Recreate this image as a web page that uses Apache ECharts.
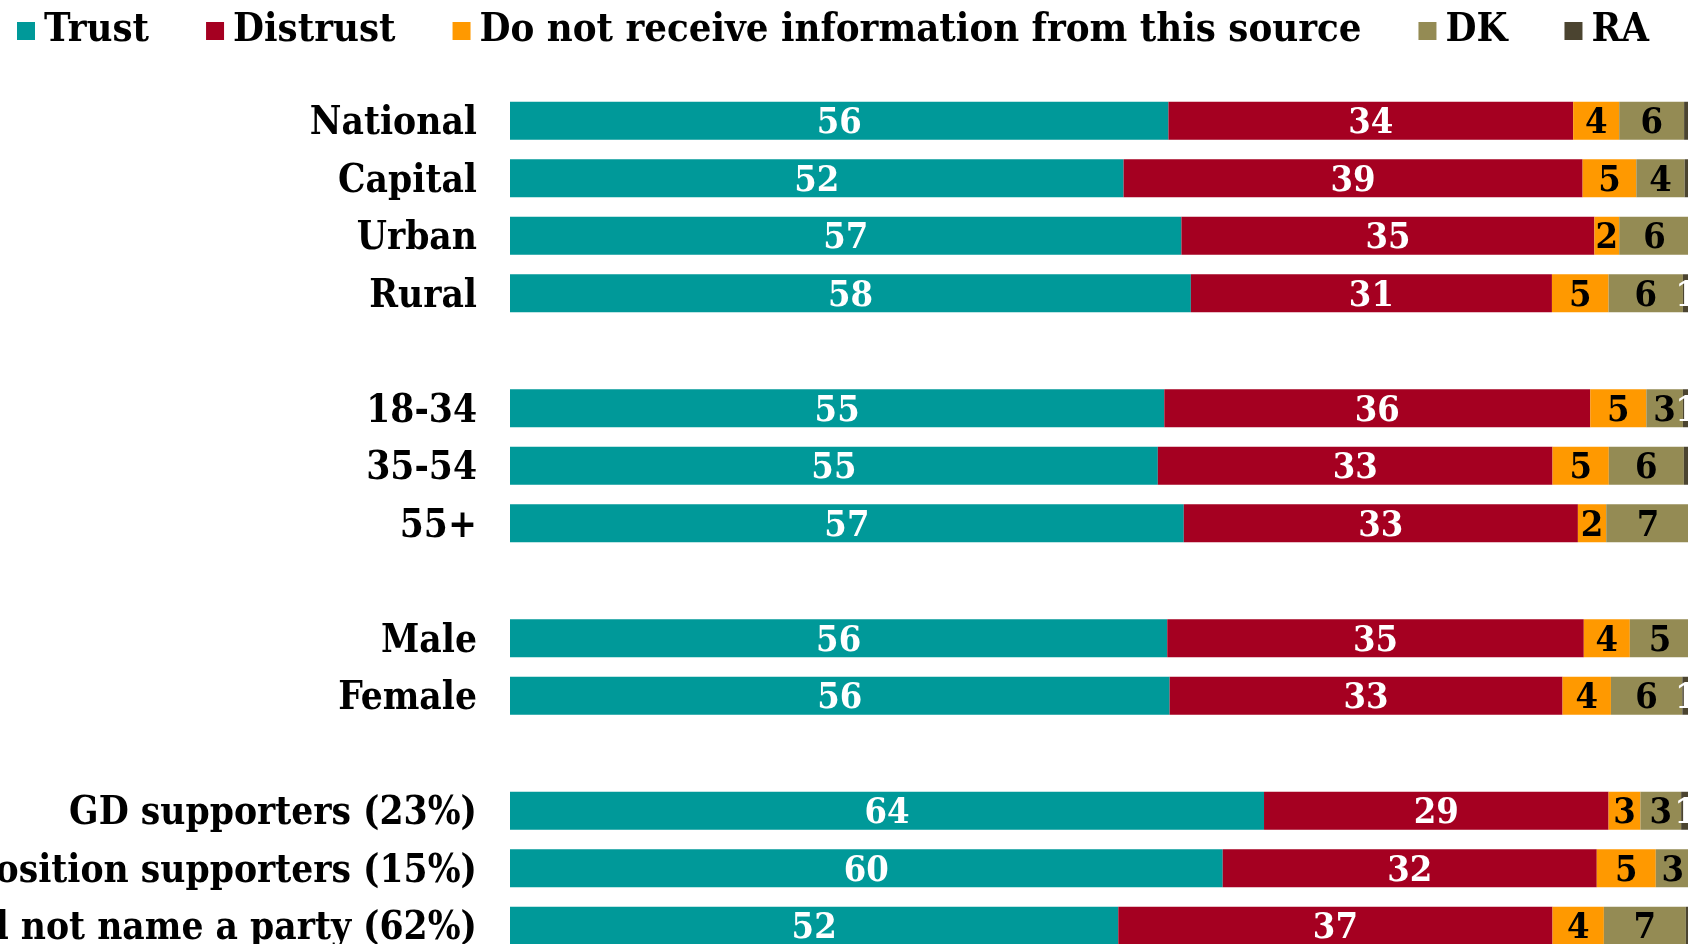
<!DOCTYPE html>
<html>
<head>
<meta charset="utf-8">
<script src="https://cdn.jsdelivr.net/npm/echarts@6/dist/echarts.min.js"></script>
<style>
html,body{margin:0;padding:0;background:#fff;}
#chart{width:1688px;height:944px;}
</style>
</head>
<body>
<div id="chart"></div>
<script>
const categories = ['National','Capital','Urban','Rural','',
  '18-34','35-54','55+',' ',
  'Male','Female','  ',
  'GD supporters (23%)','Opposition supporters (15%)','Did not name a party (62%)'];
const seriesNames = ['Trust','Distrust','Do not receive information from this source','DK','RA'];
const trust    = [55.8, 52.0, 56.9, 57.7, null, 55.45, 54.9, 57.1, null, 55.7, 55.9, null, 63.9, 60.4, 51.55];
const distrust = [34.3, 38.9, 35.0, 30.6, null, 36.1, 33.45, 33.4, null, 35.3, 33.3, null, 29.2, 31.7, 36.8];
const noInfo   = [3.9, 4.55, 2.1, 4.8, null, 4.75, 4.77, 2.4, null, 3.9, 4.1, null, 2.7, 5.0, 4.35];
const dk       = [5.5, 4.1, 6.0, 6.3, null, 3.1, 6.36, 7.1, null, 5.1, 6.05, null, 3.45, 2.9, 6.95];
const ra       = [0.45, 0.4, 0, 0.6, null, 0.6, 0.4, 0, null, 0.2, 0.65, null, 0.75, 0, 0.35];

const colors = ['#009999','#A50021','#FF9900','#948B54','#4B4430'];
const labelColors = ['#fff','#fff','#000','#000','#fff'];
const values = [trust, distrust, noInfo, dk, ra];
const FONT = '"DejaVu Serif Condensed", "DejaVu Serif", serif';

const chart = echarts.init(document.getElementById('chart'), null, {renderer:'canvas'});
chart.setOption({
  animation: false,
  backgroundColor: '#fff',
  legend: {
    data: seriesNames,
    left: 12,
    top: 6,
    itemWidth: 18,
    itemHeight: 18,
    itemGap: 57,
    icon: 'rect',
    textStyle: { fontFamily: FONT, fontWeight: 'bold', fontSize: 39.7, color: '#000', padding: [0,0,0,4] }
  },
  grid: { left: 510, top: 92, width: 1180, height: 862.5, containLabel: false, outerBoundsMode: 'none' },
  xAxis: { type: 'value', min: 0, max: 100, show: false },
  yAxis: {
    type: 'category',
    data: categories,
    inverse: true,
    axisLine: { show: false },
    axisTick: { show: false },
    splitLine: { show: false },
    axisLabel: {
      margin: 33,
      formatter: v => v.trim() ? '{a|' + v + '}' : '',
      rich: { a: { fontFamily: FONT, fontWeight: 'bold', fontSize: 38.5, color: '#000', padding: [7,0,0,0] } }
    }
  },
  series: seriesNames.map((name, i) => ({
    name: name,
    type: 'bar',
    stack: 'total',
    barWidth: 38,
    data: values[i],
    itemStyle: { color: colors[i] },
    label: {
      show: true,
      position: 'inside',
      offset: [0, 3],
      fontFamily: FONT,
      fontWeight: 'bold',
      fontSize: 36,
      color: labelColors[i],
      formatter: p => {
        const v = Math.round(p.value);
        return v >= 1 ? String(v) : '';
      }
    }
  }))
});
</script>
</body>
</html>
